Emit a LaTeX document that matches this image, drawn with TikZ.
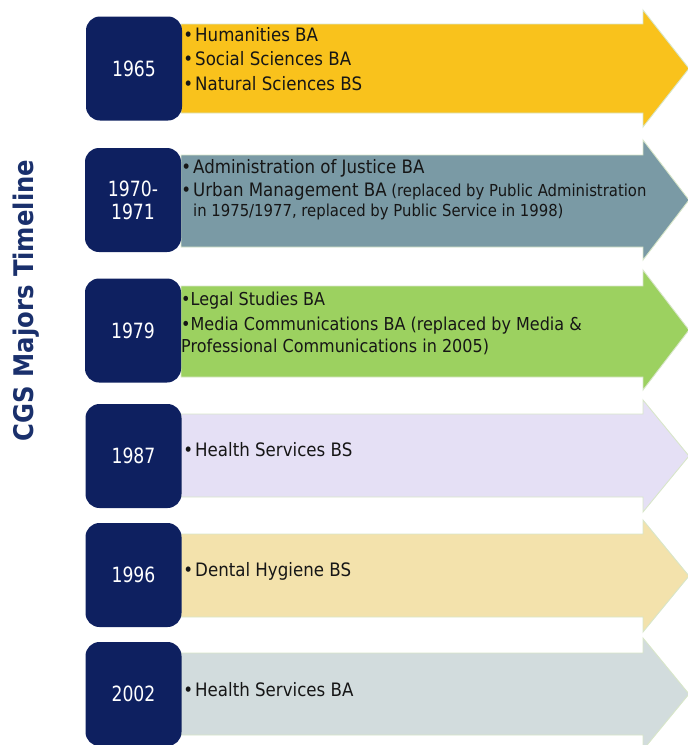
\documentclass[tikz,border=0pt]{standalone}
\usepackage{fontspec}
\setmainfont[FakeStretch=0.9]{DejaVu Sans}
\newfontfamily\yearfont[FakeStretch=0.82]{DejaVu Sans}

\definecolor{navy}{HTML}{0E2060}
\definecolor{titleblue}{HTML}{1A306C}
\definecolor{ink}{HTML}{161616}
\definecolor{edge}{HTML}{D8E6C9}
\definecolor{bandA}{HTML}{F9C21C}
\definecolor{bandB}{HTML}{7A9AA5}
\definecolor{bandC}{HTML}{9CD160}
\definecolor{bandD}{HTML}{E5E0F5}
\definecolor{bandE}{HTML}{F3E2AC}
\definecolor{bandF}{HTML}{D2DCDD}

% band arrow: #1 body top, #2 body bottom, #3 head top, #4 head bottom, #5 fill
\newcommand{\bandarrow}[5]{%
  \draw[band, fill=#5]
    (181,#1) -- (643,#1) -- (643,#3) -- (689,{(#3+#4)/2})
    -- (643,#4) -- (643,#2) -- (181,#2) -- cycle;}

\begin{document}
\begin{tikzpicture}[x=1pt, y=-1pt,
  band/.style={draw=edge, line width=0.9pt, line join=miter},
  yearbox/.style={fill=navy, rounded corners=14pt, minimum width=96pt,
    minimum height=104pt, inner sep=0pt, text=white, align=center,
    font=\yearfont\fontsize{21}{23}\selectfont},
  item/.style={anchor=base west, inner sep=0pt, text=ink, align=left,
    font=\fontsize{18.5}{22}\selectfont},
  smallitem/.style={item, font=\fontsize{16.5}{19.5}\selectfont},
  tightitem/.style={item, font=\fontsize{17.8}{22}\selectfont}]

\useasboundingbox (0,0) rectangle (688,745);

\begin{scope}
  \clip (0,0) rectangle (688,745);
  % coloured bands
  \bandarrow{24}{113}{10}{127}{bandA}
  \bandarrow{155}{247}{140}{260}{bandB}
  \bandarrow{286}{377}{270}{390}{bandC}
  \bandarrow{414}{497}{400}{512}{bandD}
  \bandarrow{534}{617}{520}{632}{bandE}
  \bandarrow{653}{735}{638}{750}{bandF}
  % year boxes
  \node[yearbox] (y1965) at (134,68.5) {1965};
  \node[yearbox] (y1970) at (133,200) {1970-\\[0pt]1971};
  \node[yearbox] (y1979) at (133,330.5) {1979};
  \node[yearbox] (y1987) at (133.5,456) {1987};
  \node[yearbox] (y1996) at (133.5,575) {1996};
  \node[yearbox] (y2002) at (133.5,694) {2002};
\end{scope}

% heading
\node[rotate=90, anchor=base, inner sep=0pt, text=titleblue,
  font=\bfseries\fontsize{27}{30}\selectfont] (title) at (33,300.5)
  {CGS Majors Timeline};

% 1965
\node[item] (hum) at (195,41.7) {\llap{•\hspace{2pt}}Humanities BA};
\node[item] (soc) at (195,65.7) {\llap{•\hspace{2pt}}Social Sciences BA};
\node[item] (nat) at (195,90) {\llap{•\hspace{2pt}}Natural Sciences BS};

% 1970-1971 (multi-line nodes sit on the baseline of their last line)
\node[item] (aoj) at (193,173.5) {\llap{•\hspace{2pt}}Administration of Justice BA};
\node[smallitem] (urb) at (193,216)
  {{\fontsize{18.5}{22}\selectfont\llap{•\hspace{2pt}}Urban Management BA}
   (replaced by Public Administration\\in 1975/1977, replaced by Public Service in 1998)};

% 1979
\node[tightitem] (leg) at (181,305.7) {•Legal Studies BA};
\node[tightitem] (med) at (181,352)
  {•Media Communications BA (replaced by Media \&\\Professional Communications in 2005)};

% later years
\node[item] (hsbs) at (195,456.7) {\llap{•\hspace{2pt}}Health Services BS};
\node[item] (dent) at (195,576) {\llap{•\hspace{2pt}}Dental Hygiene BS};
\node[item] (hsba) at (195,696) {\llap{•\hspace{2pt}}Health Services BA};
\end{tikzpicture}
\end{document}
